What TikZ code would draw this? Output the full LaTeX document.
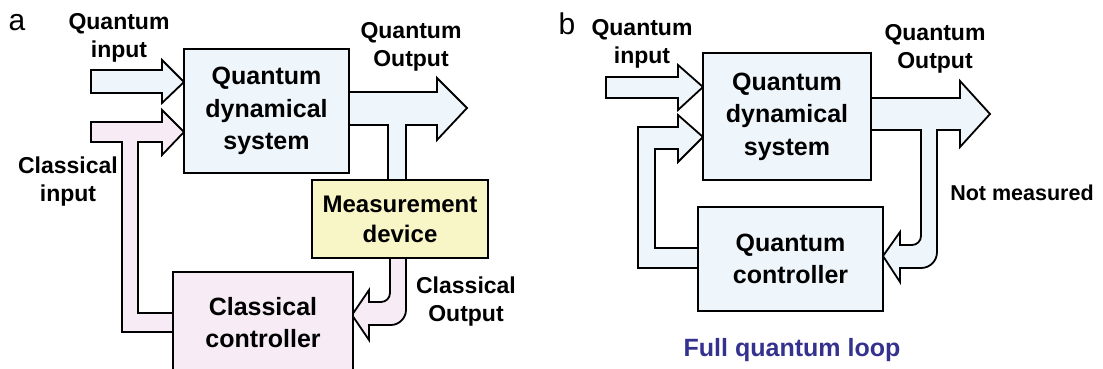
\documentclass[tikz,border=0pt]{standalone}
\usepackage{fontspec}
\setmainfont{Liberation Sans}
\usepackage{xcolor}
\usepackage{tikz}
\usetikzlibrary{positioning}
\definecolor{qblue}{RGB}{238,245,251}
\definecolor{cpink}{RGB}{247,236,245}
\definecolor{myellow}{RGB}{248,246,199}
\definecolor{loopblue}{RGB}{52,50,142}

\begin{document}
\begin{tikzpicture}[
    x=1pt, y=-1pt,
    block/.style={draw, line width=1.8pt, fill=#1, align=center, inner sep=0pt, font=\fontsize{25}{32.5}\selectfont\bfseries},
    barrow/.style={draw, line width=1.8pt, fill=#1, line join=miter},
    lbl/.style={align=center, inner sep=0pt, font=\fontsize{23}{28}\selectfont\bfseries},
    tag/.style={anchor=base, inner sep=0pt, font=\fontsize{30}{30}\selectfont}
]
\clip (0,0) rectangle (1103,369);

% Panel a: block arrows
\draw[barrow=qblue] (91,70) -- (162,70) -- (162,60) -- (184,82) -- (162,103) -- (162,93) -- (91,93) -- cycle;
\draw[barrow=cpink] (91,122) -- (162,122) -- (162,110) -- (184,132) -- (162,155) -- (162,142) -- (138,142) -- (138,313) -- (173,313) -- (173,332) -- (122,332) -- (122,142) -- (91,142) -- cycle;
\draw[barrow=qblue] (349,92) -- (437,92) -- (437,78) -- (467,108) -- (437,140) -- (437,125) -- (406,125) -- (406,180) -- (388,180) -- (388,125) -- (349,125) -- cycle;
\draw[barrow=cpink] (406,258) -- (406,310) .. controls (406,318) and (399,325) .. (391,325) -- (369,325) -- (369,340) -- (352,315) -- (369,290) -- (369,302) -- (381,302) .. controls (386,302) and (390,298) .. (390,293) -- (390,258) -- cycle;

% Panel a: boxes
\node[block=qblue, minimum width=165, minimum height=124] (qsysA) at (266.5,111) {Quantum\\dynamical\\system};
\node[block=myellow, minimum width=176, minimum height=78, font=\fontsize{24}{30}\selectfont\bfseries] (measA) at (400,219) {Measurement\\device};
\node[block=cpink, minimum width=180, minimum height=101] (ctrlA) at (263,322.5) {Classical\\controller};

% Panel a: labels
\node[tag] (tagA) at (17,31) {a};
\node[lbl] (qinA) at (119,38) {Quantum\\input};
\node[lbl] (qoutA) at (411,47) {Quantum\\Output};
\node[lbl] (cinA) at (68,182) {Classical\\input};
\node[lbl] (coutA) at (466,302) {Classical\\Output};

% Panel b: block arrows
\draw[barrow=qblue] (606,77) -- (678,77) -- (678,65) -- (703,87) -- (678,110) -- (678,98) -- (606,98) -- cycle;
\draw[barrow=qblue] (698,248) -- (655,248) -- (655,149) -- (678,149) -- (678,162) -- (703,137) -- (678,115) -- (678,127) -- (638,127) -- (638,268) -- (698,268) -- cycle;
\draw[barrow=qblue] (871,98) -- (960,98) -- (960,81) -- (990,114) -- (960,147) -- (960,130) -- (937,130) -- (937,252) .. controls (937,261) and (930,268) .. (921,268) -- (900,268) -- (900,282) -- (883,256) -- (900,232) -- (900,245) -- (912,245) .. controls (917,245) and (921,241) .. (921,236) -- (921,130) -- (871,130) -- cycle;

% Panel b: boxes
\node[block=qblue, minimum width=168, minimum height=127] (qsysB) at (787,116.5) {Quantum\\dynamical\\system};
\node[block=qblue, minimum width=185, minimum height=104, font=\fontsize{25}{32}\selectfont\bfseries] (ctrlB) at (790.5,259) {Quantum\\controller};

% Panel b: labels
\node[tag] (tagB) at (567,35) {b};
\node[lbl] (qinB) at (642,44) {Quantum\\input};
\node[lbl] (qoutB) at (935,49) {Quantum\\Output};
\node[lbl, font=\fontsize{21.5}{26}\selectfont\bfseries] (notmeas) at (1022,193) {Not measured};
\node[lbl, font=\fontsize{25}{30}\selectfont\bfseries, text=loopblue] (loop) at (792,350) {Full quantum loop};

\end{tikzpicture}
\end{document}
